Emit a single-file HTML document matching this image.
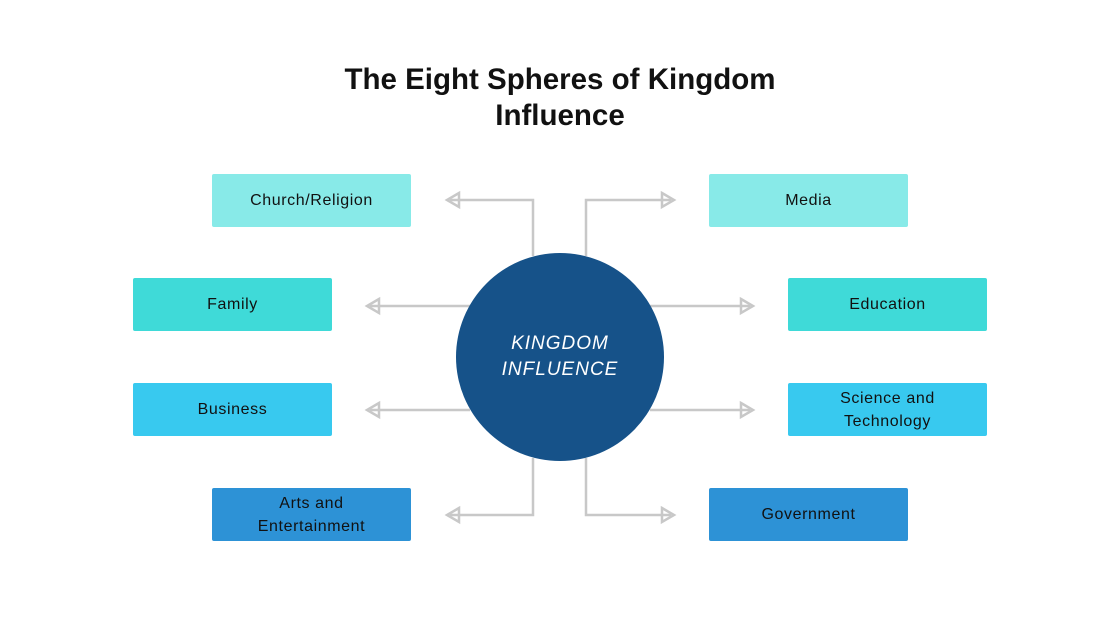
<!DOCTYPE html>
<html><head><meta charset="utf-8"><style>
body{margin:0;width:1120px;height:630px;background:#fff;position:relative;overflow:hidden;font-family:"Liberation Sans",sans-serif}
.t{position:absolute;left:0;width:1120px;top:62px;text-align:center;font-weight:bold;font-size:29.5px;line-height:36px;color:#111}
.b{position:absolute;width:199px;height:53px;border-radius:2px;display:flex;align-items:center;justify-content:center;text-align:center;font-size:16px;line-height:23px;color:#111;letter-spacing:0.6px}
.c1{background:#88EAE8}.c2{background:#3FDAD8}.c3{background:#38C9EF}.c4{background:#2D92D6}
svg{position:absolute;left:0;top:0}
.ci{position:absolute;left:456px;top:253px;width:208px;height:208px;border-radius:50%;background:#165289;color:#fff;display:flex;align-items:center;justify-content:center;text-align:center;font-style:italic;font-size:19px;line-height:26px;letter-spacing:1px}
</style></head><body>
<div class="t">The Eight Spheres of Kingdom<br>Influence</div>
<svg width="1120" height="630"><g fill="none" stroke="#c8c8c8" stroke-width="2.5">
<path d="M533 256V200H450"/><path d="M586 256V200H671"/>
<path d="M470 306H370"/><path d="M650 306H750"/>
<path d="M470 410H370"/><path d="M650 410H750"/>
<path d="M533 458V515H450"/><path d="M586 458V515H671"/>
<path d="M459 193L447 200L459 207Z"/><path d="M662 193L674 200L662 207Z"/>
<path d="M379 299L367 306L379 313Z"/><path d="M741 299L753 306L741 313Z"/>
<path d="M379 403L367 410L379 417Z"/><path d="M741 403L753 410L741 417Z"/>
<path d="M459 508L447 515L459 522Z"/><path d="M662 508L674 515L662 522Z"/>
</g></svg>
<div class="ci">KINGDOM<br>INFLUENCE</div>
<div class="b c1" style="left:212px;top:174px">Church/Religion</div>
<div class="b c1" style="left:709px;top:174px">Media</div>
<div class="b c2" style="left:133px;top:278px">Family</div>
<div class="b c2" style="left:788px;top:278px">Education</div>
<div class="b c3" style="left:133px;top:383px">Business</div>
<div class="b c3" style="left:788px;top:383px">Science and<br>Technology</div>
<div class="b c4" style="left:212px;top:488px">Arts and<br>Entertainment</div>
<div class="b c4" style="left:709px;top:488px">Government</div>
</body></html>
